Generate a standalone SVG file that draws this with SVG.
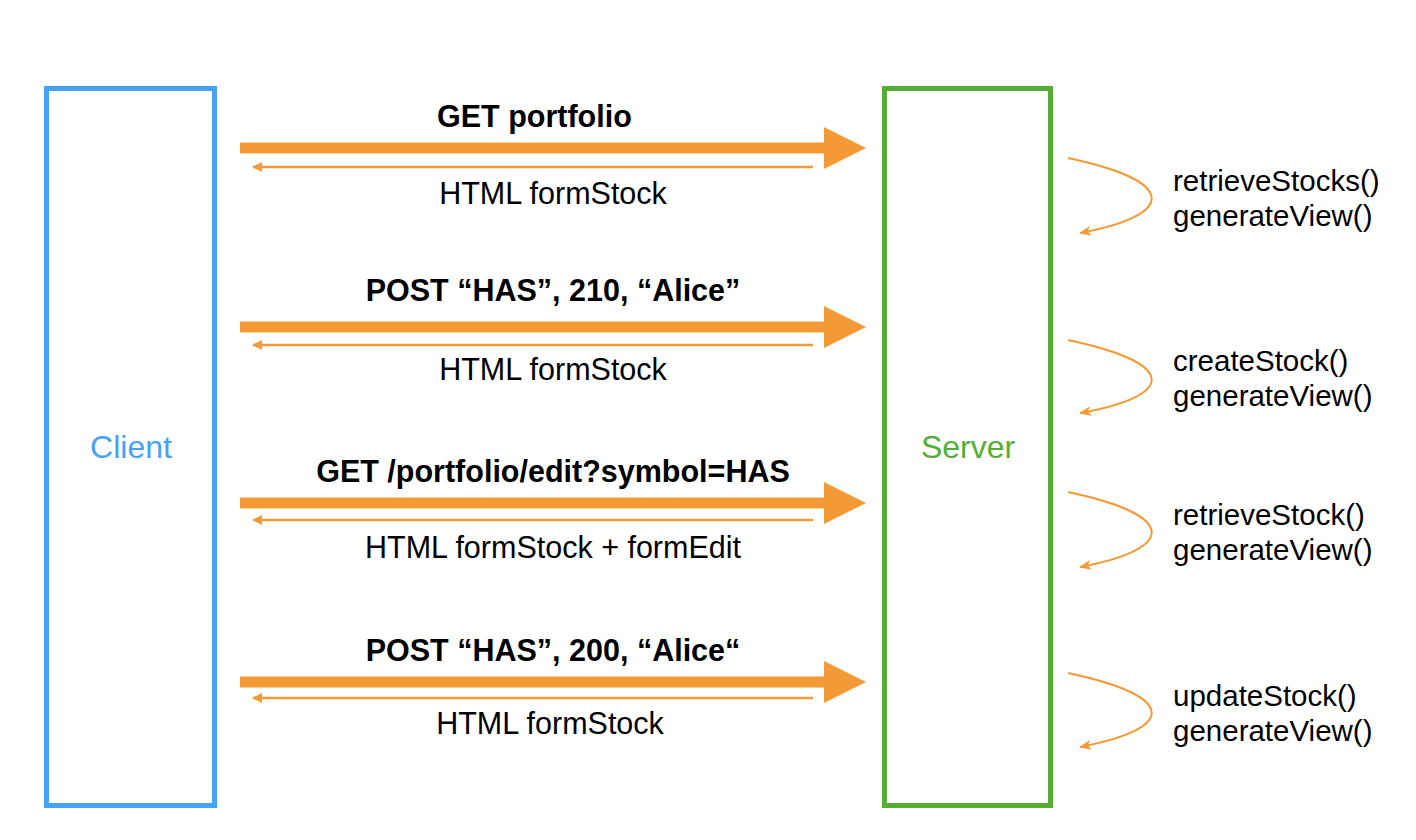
<svg xmlns="http://www.w3.org/2000/svg" width="1416" height="840" viewBox="0 0 1416 840">
<style>
.box{fill:none;stroke-width:5}
.fat{fill:#f39a37}
.thin{stroke:#f39a37;stroke-width:2.5;fill:none}
.loop{stroke:#f39a37;stroke-width:2;fill:none}
text{font-family:"Liberation Sans",Arial,Helvetica,sans-serif;font-size:29.5px;fill:#000}
.lbl{font-size:30.5px}
.b{font-weight:bold}
.m{text-anchor:middle}
</style>
<defs>
<marker id="ah" viewBox="0 0 10 10" refX="9" refY="5" markerWidth="10" markerHeight="10" markerUnits="userSpaceOnUse" orient="auto">
<path d="M0,0 L10,5 L0,10 z" fill="#f39a37"/>
</marker>
<marker id="lh" viewBox="0 0 12 10" refX="11" refY="5" markerWidth="13" markerHeight="10" markerUnits="userSpaceOnUse" orient="auto">
<path d="M0,0 L12,5 L0,10 L3,5 z" fill="#f39a37"/>
</marker>
</defs>
<rect width="1416" height="840" fill="#fff"/>
<g id="client">
<rect class="box" x="46.5" y="88.5" width="168" height="717" stroke="#44a3f6"/>
<text class="m" x="131" y="458" style="fill:#44a3f6;font-size:32px">Client</text>
</g>
<g id="server">
<rect class="box" x="884.5" y="88.5" width="166" height="717" stroke="#55ae33"/>
<text class="m" x="968" y="458" style="fill:#55ae33;font-size:32px">Server</text>
</g>
<g id="connectors">
<polygon class="fat" points="240,142.5 824,142.5 824,127 866,148 824,169 824,153.5 240,153.5"/>
<line class="thin" x1="813" y1="167" x2="253" y2="167" marker-end="url(#ah)"/>
<polygon class="fat" points="240,321.5 824,321.5 824,306 866,327 824,348 824,332.5 240,332.5"/>
<line class="thin" x1="813" y1="345" x2="253" y2="345" marker-end="url(#ah)"/>
<polygon class="fat" points="240,497.5 824,497.5 824,482 866,503 824,524 824,508.5 240,508.5"/>
<line class="thin" x1="813" y1="520" x2="253" y2="520" marker-end="url(#ah)"/>
<polygon class="fat" points="240,676.5 824,676.5 824,661 866,682 824,703 824,687.5 240,687.5"/>
<line class="thin" x1="813" y1="698" x2="253" y2="698" marker-end="url(#ah)"/>
<path class="loop" d="M1068,158 C1180,182 1175,215 1080,233" marker-end="url(#lh)"/>
<path class="loop" d="M1068,340 C1180,364 1175,396 1080,413" marker-end="url(#lh)"/>
<path class="loop" d="M1068,492 C1180,516 1175,549 1080,567" marker-end="url(#lh)"/>
<path class="loop" d="M1068,673 C1180,697 1175,729 1080,747" marker-end="url(#lh)"/>
</g>
<g id="labels">
<text class="b lbl" x="437" y="127">GET portfolio</text>
<text class="m lbl" x="553" y="204">HTML formStock</text>
<text class="b m lbl" x="553" y="301">POST “HAS”, 210, “Alice”</text>
<text class="m lbl" x="553" y="380">HTML formStock</text>
<text class="b m lbl" x="553" y="482">GET /portfolio/edit?symbol=HAS</text>
<text class="m lbl" x="553" y="558">HTML formStock + formEdit</text>
<text class="b m lbl" x="553" y="661">POST “HAS”, 200, “Alice“</text>
<text class="m lbl" x="550" y="734">HTML formStock</text>
</g>
<g id="ops">
<text x="1173" y="191">retrieveStocks()</text>
<text x="1173" y="226">generateView()</text>
<text x="1173" y="371">createStock()</text>
<text x="1173" y="406">generateView()</text>
<text x="1173" y="525">retrieveStock()</text>
<text x="1173" y="560">generateView()</text>
<text x="1173" y="706">updateStock()</text>
<text x="1173" y="741">generateView()</text>
</g>
</svg>
